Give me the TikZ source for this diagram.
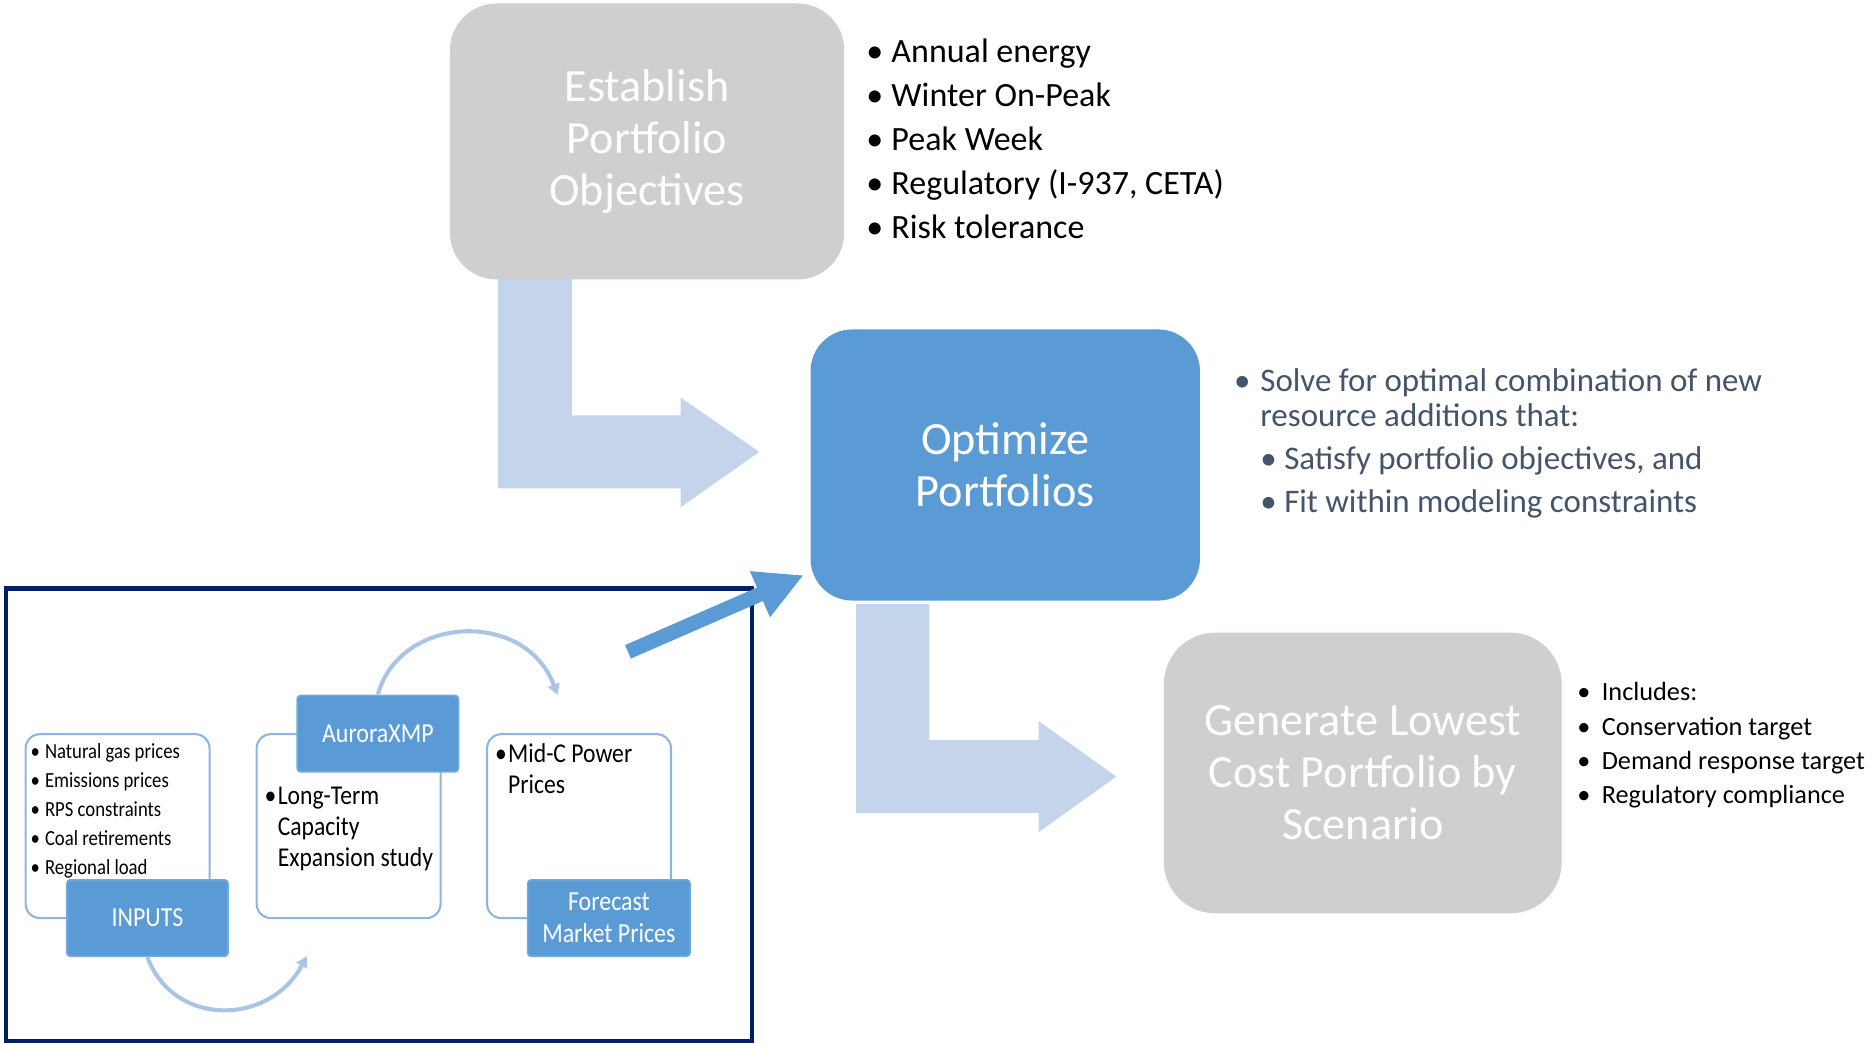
\documentclass[tikz,border=0pt]{standalone}
\usepackage{fontspec}
\setmainfont{Carlito}
\newfontfamily\insetfont[FakeStretch=0.87]{Carlito}
\usetikzlibrary{arrows.meta}
\usetikzlibrary{calc}
\definecolor{boxgray}{RGB}{208,206,206}
\definecolor{boxblue}{RGB}{91,155,213}
\definecolor{bentblue}{RGB}{196,212,234}
\definecolor{curveblue}{RGB}{170,196,230}
\definecolor{edgeblue}{RGB}{141,180,226}
\definecolor{framenavy}{RGB}{0,32,96}
\definecolor{slate}{RGB}{68,84,106}
\begin{document}
\begin{tikzpicture}[x=0.01cm,y=-0.01cm,
stagebox/.style={inner sep=0pt, align=center, text=white, font=\fontsize{11}{12.4}\selectfont},
tagbox/.style={fill=boxblue, draw=boxblue!85!white, line width=0.4pt, rounded corners=0.03cm, text=white, inner sep=0pt, align=center, minimum width=1.35cm, minimum height=0.64cm, font=\insetfont\fontsize{6.55}{7.7}\selectfont},
panel/.style={draw=edgeblue, line width=0.5pt, rounded corners=0.12cm, minimum width=1.54cm, minimum height=1.54cm, inner sep=0pt},
listline/.style={anchor=base west, inner sep=0pt},
cyclearrow/.style={draw=curveblue, line width=0.97pt, -{Triangle[length=0.09cm,width=0.1cm]}},
blockarrow/.style={fill=bentblue}]
\useasboundingbox (0,0) rectangle (1568,874);

\fill[blockarrow] (417,233) -- (479,233) -- (479,348) -- (570,348) -- (570,333) -- (636,378.5) -- (570,425) -- (570,409) -- (417,409) -- cycle;
\fill[blockarrow] (717,506) -- (778.5,506) -- (778.5,620) -- (870,620) -- (870,604) -- (935,650.5) -- (870,697) -- (870,681) -- (717,681) -- cycle;

\node[stagebox, fill=boxgray, rounded corners=0.39cm, minimum width=3.30cm, minimum height=2.31cm] (est) at (542,118.5) {Establish\\Portfolio\\Objectives};
\node[stagebox, fill=boxblue, rounded corners=0.35cm, minimum width=3.26cm, minimum height=2.27cm] (opt) at (842,389.5) {Optimize\\Portfolios};
\node[stagebox, fill=boxgray, rounded corners=0.43cm, minimum width=3.33cm, minimum height=2.35cm] (gen) at (1141.5,647.5) {Generate Lowest\\Cost Portfolio by\\Scenario};

\foreach \txt [count=\i from 0] in {Annual energy, Winter On-Peak, Peak Week, {Regulatory (I-937, CETA)}, Risk tolerance} {
\node[listline, font=\fontsize{8.1}{9}\selectfont] at (725,52+37*\i) {\textbullet};
\node[listline, font=\fontsize{8.1}{9}\selectfont] (obj\i) at (746,52+37*\i) {\txt};
}

\node[listline, text=slate, font=\fontsize{7.85}{9}\selectfont] at (1033,328) {\textbullet};
\node[listline, text=slate, font=\fontsize{7.85}{9}\selectfont] (solve1) at (1055,328) {Solve for optimal combination of new};
\node[listline, text=slate, font=\fontsize{7.85}{9}\selectfont] (solve2) at (1055,357) {resource additions that:};
\node[listline, text=slate, font=\fontsize{7.85}{9}\selectfont] at (1055,393) {\textbullet};
\node[listline, text=slate, font=\fontsize{7.85}{9}\selectfont] (sat) at (1075,393) {Satisfy portfolio objectives, and};
\node[listline, text=slate, font=\fontsize{7.85}{9}\selectfont] at (1055,429) {\textbullet};
\node[listline, text=slate, font=\fontsize{7.85}{9}\selectfont] (fit) at (1075,429) {Fit within modeling constraints};

\foreach \txt [count=\i from 0] in {Includes:, Conservation target, Demand response target, Regulatory compliance} {
\node[listline, font=\fontsize{6.26}{7}\selectfont] at (1320.5,587+28.7*\i) {\textbullet};
\node[listline, font=\fontsize{6.26}{7}\selectfont] (inc\i) at (1341,587+28.7*\i) {\txt};
}

\draw[framenavy, line width=1.1pt] (5,493) rectangle (630,872);

\node[panel] (inl) at (98.5,692) {};
\node[panel] (midl) at (292,692) {};
\node[panel] (outl) at (485,692) {};

\foreach \txt [count=\i from 0] in {Natural gas prices, Emissions prices, RPS constraints, Coal retirements, Regional load} {
\node[listline, font=\insetfont\fontsize{5.13}{6}\selectfont] at (25,635+24.3*\i) {\textbullet};
\node[listline, font=\insetfont\fontsize{5.13}{6}\selectfont] (in\i) at (37,635+24.3*\i) {\txt};
}
\node[listline, font=\insetfont\fontsize{6.47}{7}\selectfont] at (221,674) {\textbullet};
\foreach \txt [count=\i from 0] in {Long-Term, Capacity, Expansion study} {
\node[listline, font=\insetfont\fontsize{6.47}{7}\selectfont] (lt\i) at (232,674+26*\i) {\txt};
}
\node[listline, font=\insetfont\fontsize{6.47}{7}\selectfont] at (414,639) {\textbullet};
\node[listline, font=\insetfont\fontsize{6.47}{7}\selectfont] (midc0) at (425,639) {Mid-C Power};
\node[listline, font=\insetfont\fontsize{6.47}{7}\selectfont] (midc1) at (425,665) {Prices};

\node[tagbox] (inputs) at (123.5,769) {INPUTS};
\node[tagbox] (aurora) at (316.5,614.5) {AuroraXMP};
\node[tagbox, minimum width=1.36cm] (forecast) at (510,769) {Forecast\\Market Prices};

\coordinate (midin) at (257,801);
\coordinate (outin) at (467,582);
\draw[cyclearrow] (inputs.south) .. controls (145,860) and (225,860) .. (midin);
\draw[cyclearrow] (aurora.north) .. controls (335,515) and (440,510) .. (outin);

\coordinate (feed) at (526,546);
\draw[boxblue, line width=0.123cm, -{Triangle[length=0.40cm,width=0.39cm]}] (feed) -- ($(opt.south west)+(-5,-22)$);
\end{tikzpicture}
\end{document}
